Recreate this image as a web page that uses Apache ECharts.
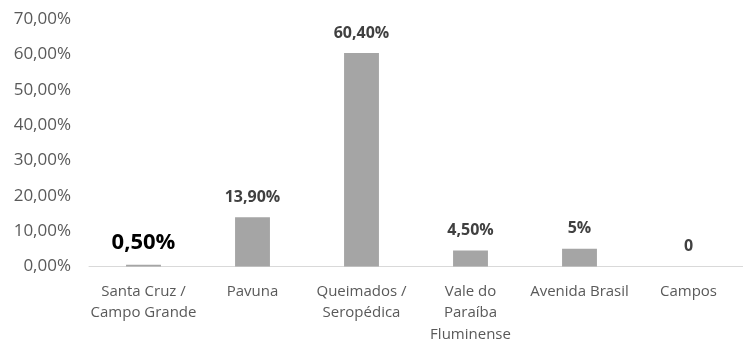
<!DOCTYPE html>
<html>
<head>
<meta charset="utf-8">
<script src="https://cdn.jsdelivr.net/npm/echarts@6/dist/echarts.min.js"></script>
<style>
html,body{margin:0;padding:0;background:#fff;}
#c{width:743px;height:345px;}
</style>
</head>
<body>
<div id="c"></div>
<script>
const categories = ['Santa Cruz /\nCampo Grande', 'Pavuna', 'Queimados /\nSeropédica', 'Vale do\nParaíba\nFluminense', 'Avenida Brasil', 'Campos'];
const values = [0.5, 13.9, 60.4, 4.5, 5, 0];
const valueLabels = ['0,50%', '13,90%', '60,40%', '4,50%', '5%', '0'];
const yTicks = [0, 10, 20, 30, 40, 50, 60, 70];
const yTickLabels = ['0,00%', '10,00%', '20,00%', '30,00%', '40,00%', '50,00%', '60,00%', '70,00%'];

const FONT = '"Open Sans", "Liberation Sans", sans-serif';
const chart = echarts.init(document.getElementById('c'), null, {renderer: 'canvas'});
chart.setOption({
  animation: false,
  grid: {left: 89, right: -9, top: 19, bottom: 71, containLabel: false},
  xAxis: {
    type: 'category',
    data: categories,
    axisLine: {lineStyle: {color: '#d9d9d9', width: 1}},
    axisTick: {show: false},
    axisLabel: {color: '#595959', fontFamily: FONT, fontSize: 15, lineHeight: 21.5, margin: 14, interval: 0}
  },
  yAxis: {
    type: 'value',
    min: yTicks[0],
    max: yTicks[yTicks.length - 1],
    interval: 10,
    splitLine: {show: false},
    axisLine: {show: false},
    axisTick: {show: false},
    axisLabel: {
      color: '#595959', fontFamily: FONT, fontSize: 17, margin: 18,
      formatter: function (v) { const i = yTicks.indexOf(v); return i >= 0 ? yTickLabels[i] : ''; }
    }
  },
  series: [{
    type: 'bar',
    data: values.map(function (v, i) {
      const item = {value: v};
      if (i === 0) {
        item.label = {fontSize: 22, color: '#000000', distance: 11};
      }
      return item;
    }),
    barWidth: '32%',
    itemStyle: {color: '#a5a5a5'},
    label: {
      show: true,
      position: 'top',
      distance: 12,
      fontFamily: FONT,
      fontSize: 16,
      fontWeight: 'bold',
      color: '#404040',
      formatter: function (p) { return valueLabels[p.dataIndex]; }
    }
  }]
});
</script>
</body>
</html>
